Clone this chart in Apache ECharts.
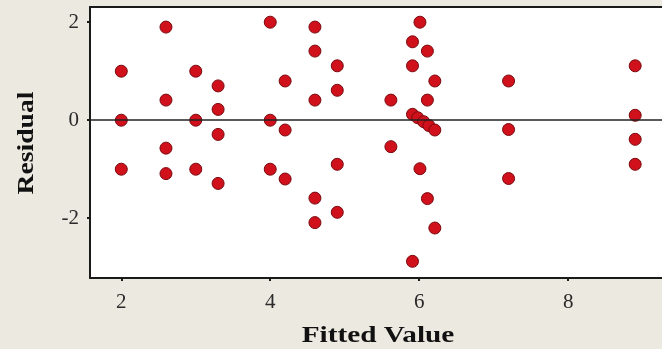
<!DOCTYPE html>
<html>
<head>
<meta charset="utf-8">
<script src="https://cdn.jsdelivr.net/npm/echarts@6/dist/echarts.min.js"></script>
<style>
  html, body { margin: 0; padding: 0; background: #ece9e0; }
  #chart { width: 662px; height: 349px; }
</style>
</head>
<body>
<div id="chart"></div>
<script>
// Residuals versus fitted values
const fittedValues = [
  2.0, 2.0, 2.0,
  2.6, 2.6, 2.6, 2.6,
  3.0, 3.0, 3.0,
  3.3, 3.3, 3.3, 3.3,
  4.0, 4.0, 4.0,
  4.2, 4.2, 4.2,
  4.6, 4.6, 4.6, 4.6, 4.6,
  4.9, 4.9, 4.9, 4.9,
  5.62, 5.62,
  5.91, 5.91, 5.91,
  6.01, 6.01,
  6.11, 6.11, 6.11,
  6.21, 6.21,
  5.91, 5.98, 6.06, 6.13, 6.21,
  7.2, 7.2, 7.2,
  8.9, 8.9, 8.9, 8.9
];
const residuals = [
  1.0, 0.0, -1.0,
  1.9, 0.41, -0.57, -1.09,
  1.0, 0.0, -1.0,
  0.7, 0.22, -0.29, -1.29,
  2.0, 0.0, -1.0,
  0.8, -0.2, -1.2,
  1.9, 1.41, 0.41, -1.59, -2.09,
  1.11, 0.61, -0.9, -1.88,
  0.41, -0.54,
  1.6, 1.11, -2.88,
  2.0, -0.99,
  1.41, 0.41, -1.6,
  0.8, -2.2,
  0.12, 0.05, -0.03, -0.11, -0.2,
  0.8, -0.19, -1.19,
  1.11, 0.1, -0.39, -0.9
];
const xTicks = [2, 4, 6, 8];
const yTicks = [-2, 0, 2];
const xTitle = 'Fitted Value';
const yTitle = 'Residual';

const points = fittedValues.map((x, i) => [x, residuals[i]]);

const serif = '"Liberation Serif", "DejaVu Serif", serif';
const chart = echarts.init(document.getElementById('chart'));
chart.setOption({
  backgroundColor: '#ece9e0',
  animation: false,
  grid: { left: 90, top: 7, right: 0, bottom: 71, show: true, backgroundColor: '#ffffff', borderWidth: 0 },
  xAxis: [{
    type: 'value', min: 1.58, max: 9.26,
    axisLine: { show: true, onZero: false, lineStyle: { color: '#1a1a1a', width: 2 } },
    axisTick: { show: true, length: 3, customValues: xTicks, lineStyle: { color: '#1a1a1a', width: 2 } },
    axisLabel: { customValues: xTicks, fontFamily: serif, fontSize: 21, color: '#2a2a2a', margin: 14 },
    splitLine: { show: false }
  }, {
    type: 'value', position: 'top', min: 1.58, max: 9.26,
    axisLine: { show: true, onZero: false, lineStyle: { color: '#1a1a1a', width: 2 } },
    axisTick: { show: false }, axisLabel: { show: false }, splitLine: { show: false }
  }],
  yAxis: {
    type: 'value', min: -3.22, max: 2.31,
    axisLine: { show: true, onZero: false, lineStyle: { color: '#1a1a1a', width: 2 } },
    axisTick: { show: true, length: 3, customValues: yTicks, lineStyle: { color: '#1a1a1a', width: 2 } },
    axisLabel: { customValues: yTicks, fontFamily: serif, fontSize: 21, color: '#2a2a2a', margin: 11 },
    splitLine: { show: false }
  },
  graphic: [{
    type: 'text', x: 378, y: 336, scaleX: 1.22,
    style: { text: xTitle, fontFamily: serif, fontWeight: 'bold', fontSize: 24, fill: '#111',
             textAlign: 'center', textVerticalAlign: 'middle' }
  }, {
    type: 'text', x: 27, y: 143, rotation: Math.PI / 2, scaleX: 1.15,
    style: { text: yTitle, fontFamily: serif, fontWeight: 'bold', fontSize: 24, fill: '#111',
             textAlign: 'center', textVerticalAlign: 'middle' }
  }],
  series: [{
    type: 'scatter',
    data: points,
    symbol: 'circle',
    symbolSize: 12,
    itemStyle: { color: '#d0101a', opacity: 1, borderColor: '#7a0a10', borderWidth: 1 },
    markLine: {
      silent: true, symbol: 'none', label: { show: false },
      lineStyle: { color: '#222', width: 1.5, type: 'solid' },
      data: [{ yAxis: 0 }]
    },
    z: 3
  }]
});
</script>
</body>
</html>
